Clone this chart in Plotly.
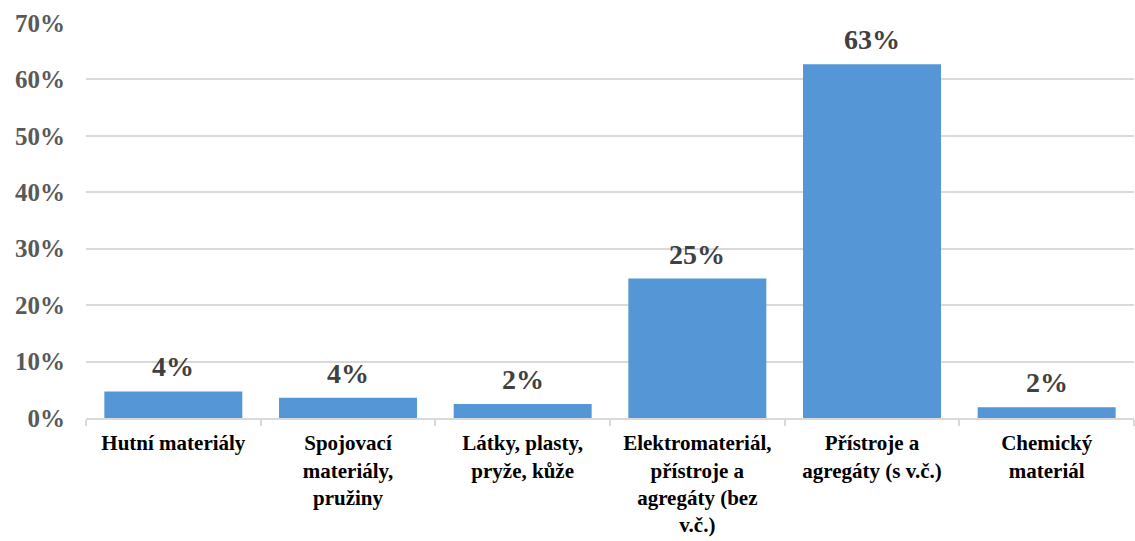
import plotly.graph_objects as go

categories = [
    "Hutní materiály",
    "Spojovací<br>materiály,<br>pružiny",
    "Látky, plasty,<br>pryže, kůže",
    "Elektromateriál,<br>přístroje a<br>agregáty (bez<br>v.č.)",
    "Přístroje a<br>agregáty (s v.č.)",
    "Chemický<br>materiál",
]
values = [0.047, 0.036, 0.025, 0.247, 0.627, 0.019]
value_labels = ["4%", "4%", "2%", "25%", "63%", "2%"]

FONT = "Liberation Serif"

fig = go.Figure()
fig.add_trace(go.Bar(
    x=categories,
    y=values,
    marker=dict(color="#5597d6", line=dict(width=0)),
    hoverinfo="skip",
))

for c, v, t in zip(categories, values, value_labels):
    fig.add_annotation(
        x=c, y=v, text=t, showarrow=False,
        yanchor="bottom", yshift=7,
        font=dict(family=FONT, size=28, color="#404040", weight="bold"),
    )

fig.update_layout(
    width=1135, height=541,
    margin=dict(l=86, r=1, t=23, b=123),
    paper_bgcolor="white",
    plot_bgcolor="white",
    bargap=0.21,
    showlegend=False,
    font=dict(family=FONT),
    xaxis=dict(
        tickfont=dict(family=FONT, size=21, color="black", weight="bold"),
        showline=True, linecolor="#d9d9d9", linewidth=2,
        ticks="outside", tickson="boundaries", ticklen=6, tickcolor="#d9d9d9", tickwidth=2,
        showgrid=False,
        tickangle=0,
        automargin=False,
        ticklabelstandoff=5,
    ),
    yaxis=dict(
        range=[0, 0.7], dtick=0.1, tickformat=".0%",
        tickfont=dict(family=FONT, size=25, color="#595959", weight="bold"),
        showgrid=True, gridcolor="#d9d9d9", gridwidth=1.5,
        zeroline=False, showline=False,
        ticklabelstandoff=20,
        automargin=False,
    ),
)

fig.write_html("out.html")
